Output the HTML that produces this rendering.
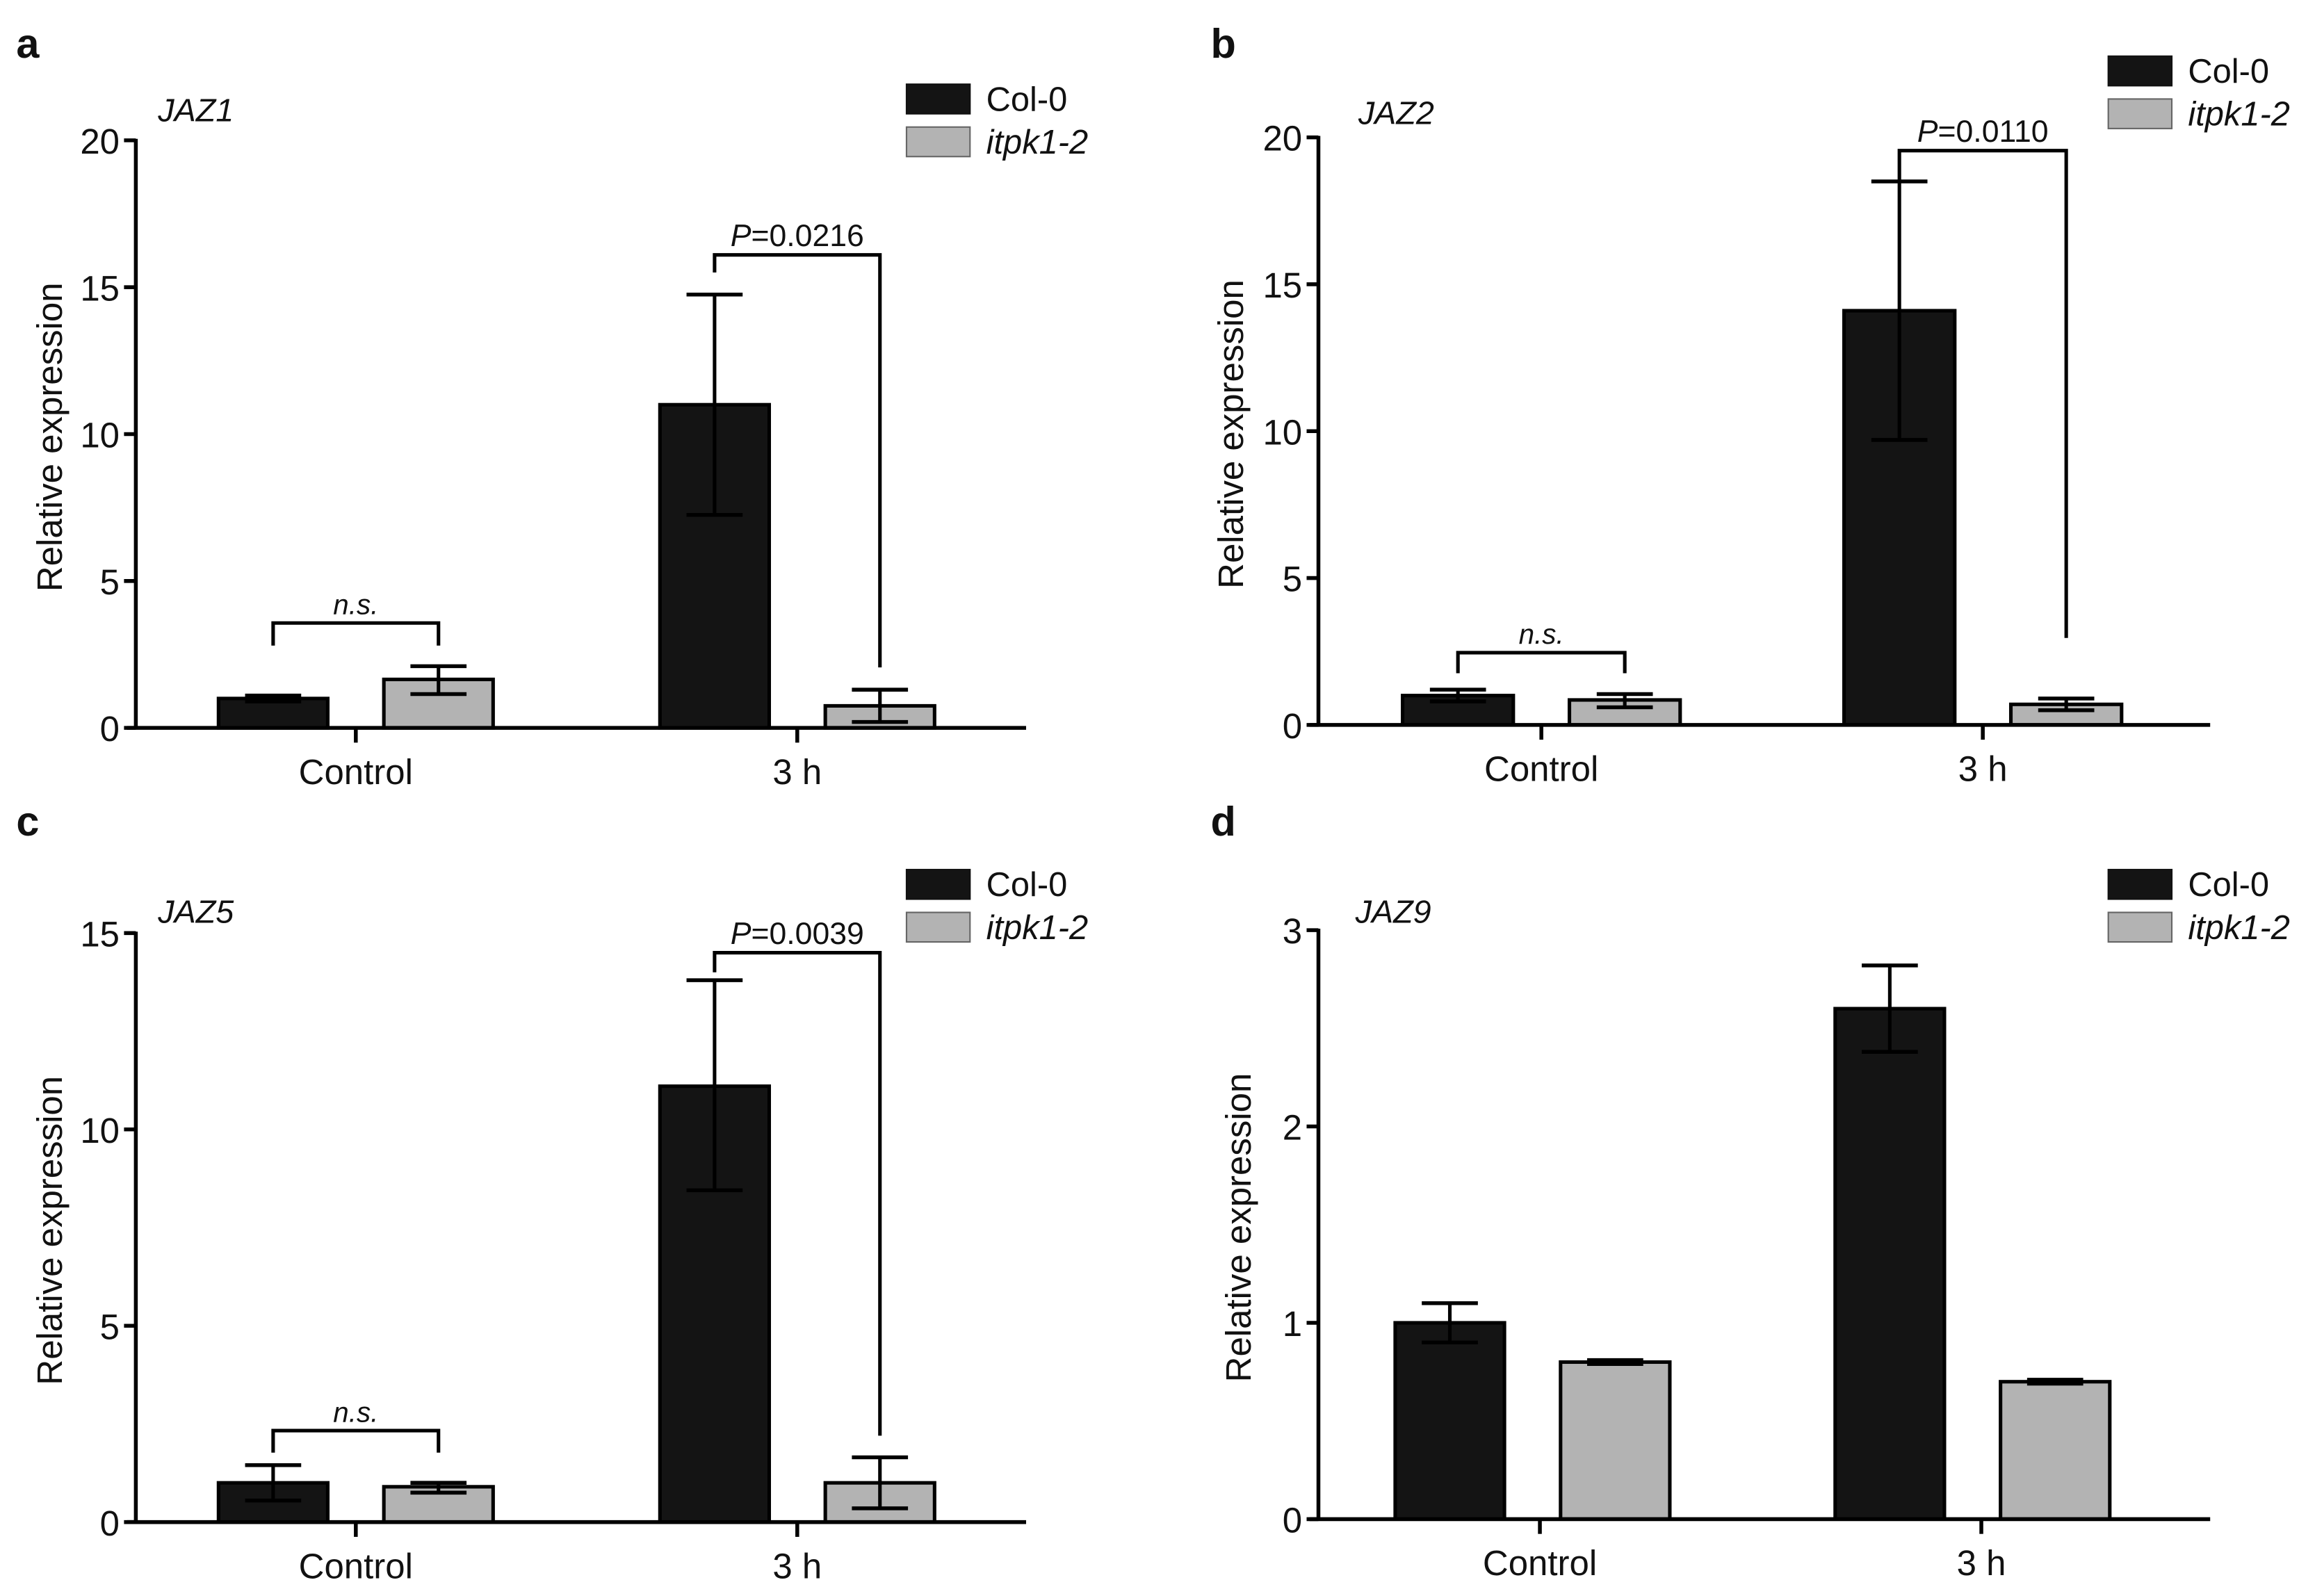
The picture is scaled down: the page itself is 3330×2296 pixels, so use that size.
<!DOCTYPE html>
<html><head><meta charset="utf-8">
<style>
html,body{margin:0;padding:0;background:#fff;}
svg{display:block;font-family:"Liberation Sans",Arial,sans-serif;}
</style></head>
<body>
<svg id="fig" width="3330" height="2296" viewBox="0 0 1568 1081" xmlns="http://www.w3.org/2000/svg"></svg>
<script>
const NS="http://www.w3.org/2000/svg";
const categories=["Control","3 h"];
const seriesNames=["Col-0","itpk1-2"];
const genes=["JAZ1","JAZ2","JAZ5","JAZ9"];
const panelLetters=["a","b","c","d"];
const colValues=[[1.0,11.0],[1.0,14.1],[1.0,11.1],[1.0,2.6]];
const itpkValues=[[1.65,0.75],[0.85,0.7],[0.9,1.0],[0.8,0.7]];
const colErrLow=[[0.9,7.25],[0.8,9.7],[0.55,8.45],[0.9,2.38]];
const colErrHigh=[[1.1,14.75],[1.2,18.5],[1.45,13.8],[1.1,2.82]];
const itpkErrLow=[[1.15,0.2],[0.6,0.5],[0.75,0.35],[0.79,0.69]];
const itpkErrHigh=[[2.1,1.3],[1.05,0.9],[1.0,1.65],[0.81,0.71]];
const yMax=[20,20,15,3];
const yTicks=[[0,5,10,15,20],[0,5,10,15,20],[0,5,10,15],[0,1,2,3]];
const pLabels=["0.0216","0.0110","0.0039",null];
const pBracket=[[16.1,15.5,2.06],[19.55,18.5,2.96],[14.5,14.0,2.2],null];
const nsBracket=[[3.57,2.8,2.8],[2.46,1.76,1.76],[2.33,1.77,1.77],null];

const panels=[
 {ax:92,y0:493,yTop:95,xEnd:695,barL:[148,447],bw:74,gap:112,tick:[241,540],leg:[614,57],letter:[11,39],gene:[107,82],ytitle:33},
 {ax:893,y0:491,yTop:93,xEnd:1497,barL:[950,1249],bw:75,gap:113,tick:[1044,1343],leg:[1428,38],letter:[820,39],gene:[920,84],ytitle:833},
 {ax:92,y0:1031,yTop:632,xEnd:695,barL:[148,447],bw:74,gap:112,tick:[241,540],leg:[614,589],letter:[11,566],gene:[107,625],ytitle:33},
 {ax:893,y0:1029,yTop:630,xEnd:1497,barL:[945,1243],bw:74,gap:112,tick:[1043,1342],leg:[1428,589],letter:[820,566],gene:[918,625],ytitle:838}
];
const svg=document.getElementById('fig');
function mk(tag,attrs,parent){const e=document.createElementNS(NS,tag);for(const k in attrs)e.setAttribute(k,attrs[k]);(parent||svg).appendChild(e);return e;}
function line(g,x1,y1,x2,y2,w){return mk('line',{x1,y1,x2,y2,stroke:'#000','stroke-width':w||2.4},g);}

panels.forEach((P,i)=>{
 const g=mk('g',{});
 
 
 const ys=v=>P.y0-(v/yMax[i])*(P.y0-P.yTop);
 const L=mk('text',{x:P.letter[0],y:P.letter[1],'font-size':28,'font-weight':'bold',fill:'#111'},g);L.textContent=panelLetters[i];
 
 
 const G=mk('text',{x:P.gene[0],y:P.gene[1],'font-size':22,'font-style':'italic',fill:'#111'},g);G.textContent=genes[i];
 
 
 const yt=mk('text',{x:0,y:0,'font-size':24,'text-anchor':'middle',fill:'#111',transform:`translate(${P.ytitle+9},${(P.y0+P.yTop)/2+2}) rotate(-90)`},g);yt.textContent='Relative expression';
 
 
 for(let c=0;c<2;c++){
  const defs=[{v:colValues[i][c],lo:colErrLow[i][c],hi:colErrHigh[i][c],x:P.barL[c],fill:'#141414',n:'col0'},
              {v:itpkValues[i][c],lo:itpkErrLow[i][c],hi:itpkErrHigh[i][c],x:P.barL[c]+P.gap,fill:'#b3b3b3',n:'itpk1-2'}];
  defs.forEach(d=>{
   const r=mk('rect',{x:d.x,y:ys(d.v),width:P.bw,height:P.y0-ys(d.v),fill:d.fill,stroke:'#000','stroke-width':2.4},g);
   
   
   const cx=d.x+P.bw/2;
   const e=mk('g',{},g);
   
   
   line(e,cx,ys(d.lo),cx,ys(d.hi),2.4);
   line(e,cx-19,ys(d.hi),cx+19,ys(d.hi),2.6);
   line(e,cx-19,ys(d.lo),cx+19,ys(d.lo),2.6);
  });
 }
 const ax=mk('g',{},g);
 
 
 line(ax,P.ax,P.yTop-1,P.ax,P.y0+1,2.6);
 yTicks[i].forEach(t=>{
  line(ax,P.ax-8,ys(t),P.ax,ys(t),2.6);
  const tx=mk('text',{x:P.ax-11,y:ys(t)+9,'font-size':24,'text-anchor':'end',fill:'#111'},ax);tx.textContent=t;
  
  
 });
 const xa=mk('g',{},g);
 
 
 line(xa,P.ax-6,P.y0,P.xEnd,P.y0,2.6);
 categories.forEach((c,k)=>{
  line(xa,P.tick[k],P.y0,P.tick[k],P.y0+10,2.6);
  const tx=mk('text',{x:P.tick[k],y:P.y0+38,'font-size':24,'text-anchor':'middle',fill:'#111'},xa);tx.textContent=c;
  
  
 });
 function bracket(b,xl,xr,label,italicP,name){
  const bg=mk('g',{},g);
  
  
  mk('polyline',{points:`${xl},${ys(b[1])} ${xl},${ys(b[0])} ${xr},${ys(b[0])} ${xr},${ys(b[2])}`,fill:'none',stroke:'#000','stroke-width':2.4},bg);
  const t=mk('text',{x:(xl+xr)/2,y:ys(b[0])-6,'font-size':italicP?21:19,'text-anchor':'middle',fill:'#111'},bg);
  if(italicP){const s=mk('tspan',{'font-style':'italic'},t);s.textContent='P';const s2=mk('tspan',{},t);s2.textContent='='+label;}
  else{t.setAttribute('font-style','italic');t.textContent='n.s.';}
 }
 if(nsBracket[i]) bracket(nsBracket[i],P.barL[0]+P.bw/2,P.barL[0]+P.gap+P.bw/2,null,false,'ns-bracket');
 if(pBracket[i]) bracket(pBracket[i],P.barL[1]+P.bw/2,P.barL[1]+P.gap+P.bw/2,pLabels[i],true,'p-value-bracket');
 const lg=mk('g',{},g);
 
 
 [['#141414','Col-0',false],['#b3b3b3','itpk1-2',true]].forEach((s,k)=>{
  const y=P.leg[1]+k*29;
  mk('rect',{x:P.leg[0],y:y,width:43,height:20,fill:s[0],stroke:s[1]==='Col-0'?'#111':'#666','stroke-width':1},lg);
  const t=mk('text',{x:P.leg[0]+54,y:y+18,'font-size':23,fill:'#111','font-style':s[2]?'italic':'normal'},lg);t.textContent=s[1];
  
  
 });
});
</script>
</body></html>
